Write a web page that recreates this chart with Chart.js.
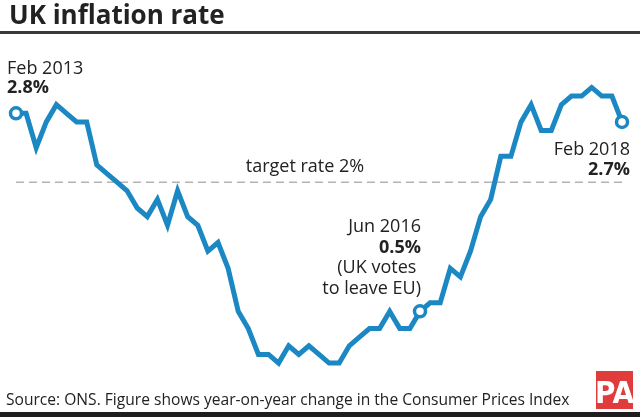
<!DOCTYPE html>
<html>
<head>
<meta charset="utf-8">
<script src="https://cdn.jsdelivr.net/npm/chart.js@4"></script>
<style>
  body { margin: 0; background: #fff; }
  canvas { display: block; }
</style>
</head>
<body>
<canvas id="chart" width="640" height="417"></canvas>
<script>
// monthly CPI, Feb 2013 .. Feb 2018
const months = [
    "Feb 2013", "Mar 2013", "Apr 2013", "May 2013", "Jun 2013", "Jul 2013", "Aug 2013", "Sep 2013", "Oct 2013", "Nov 2013", "Dec 2013",
    "Jan 2014", "Feb 2014", "Mar 2014", "Apr 2014", "May 2014", "Jun 2014", "Jul 2014", "Aug 2014", "Sep 2014", "Oct 2014", "Nov 2014", "Dec 2014",
    "Jan 2015", "Feb 2015", "Mar 2015", "Apr 2015", "May 2015", "Jun 2015", "Jul 2015", "Aug 2015", "Sep 2015", "Oct 2015", "Nov 2015", "Dec 2015",
    "Jan 2016", "Feb 2016", "Mar 2016", "Apr 2016", "May 2016", "Jun 2016", "Jul 2016", "Aug 2016", "Sep 2016", "Oct 2016", "Nov 2016", "Dec 2016",
    "Jan 2017", "Feb 2017", "Mar 2017", "Apr 2017", "May 2017", "Jun 2017", "Jul 2017", "Aug 2017", "Sep 2017", "Oct 2017", "Nov 2017", "Dec 2017",
    "Jan 2018", "Feb 2018"
];
const inflation = [
    2.8, 2.8, 2.4, 2.7, 2.9, 2.8, 2.7, 2.7, 2.2, 2.1, 2.0,
    1.9, 1.7, 1.6, 1.8, 1.5, 1.9, 1.6, 1.5, 1.2, 1.3, 1.0, 0.5,
    0.3, 0.0, 0.0, -0.1, 0.1, 0.0, 0.1, 0.0, -0.1, -0.1, 0.1, 0.2,
    0.3, 0.3, 0.5, 0.3, 0.3, 0.5, 0.6, 0.6, 1.0, 0.9, 1.2, 1.6,
    1.8, 2.3, 2.3, 2.7, 2.9, 2.6, 2.6, 2.9, 3.0, 3.0, 3.1, 3.0,
    3.0, 2.7
];
const targetRate = 2;
const marked = ["Feb 2013", "Jun 2016", "Feb 2018"];

const BLUE = "#1b88c3";
const INK = "#222222";
const FONT = "'Open Sans', sans-serif";

const radii = months.map(m => marked.includes(m) ? 5.5 : 0);

// titles, notes, rules and logo
const decor = {
    id: "decor",
    beforeDraw(chart) {
        const ctx = chart.ctx;
        ctx.save();
        ctx.fillStyle = "#fff";
        ctx.fillRect(0, 0, chart.width, chart.height);
        ctx.restore();
    },
    afterDraw(chart) {
        const ctx = chart.ctx;
        const x = chart.scales.x, y = chart.scales.y;
        const px = m => x.getPixelForValue(months.indexOf(m));
        ctx.save();
        ctx.fillStyle = INK;
        ctx.textBaseline = "alphabetic";

        // title
        ctx.font = "bold 26px " + FONT;
        ctx.textAlign = "left";
        ctx.fillText("UK inflation rate", 9, 24);
        ctx.fillStyle = "#3a3a3a";
        ctx.fillRect(0, 31, 640, 3);

        ctx.fillStyle = INK;
        const note = (lines, ax, align) => {
            ctx.textAlign = align;
            lines.forEach(l => {
                ctx.font = (l.b ? "bold " : "") + "18px " + FONT;
                ctx.fillText(l.t, ax, l.y);
            });
        };
        note([{t: "Feb 2013", y: 74}, {t: "2.8%", y: 93, b: true}], 7, "left");
        note([{t: "Feb 2018", y: 155}, {t: "2.7%", y: 175, b: true}], px("Feb 2018") + 8, "right");
        note([
            {t: "Jun 2016", y: 232},
            {t: "0.5%", y: 253, b: true},
            {t: "(UK votes ", y: 273},
            {t: "to leave EU)", y: 294}
        ], px("Jun 2016") + 1, "right");

        ctx.font = "18px " + FONT;
        ctx.textAlign = "center";
        ctx.fillText("target rate " + targetRate + "%", 305, y.getPixelForValue(targetRate) - 10);

        // source + bottom rule
        ctx.font = "15.6px " + FONT;
        ctx.textAlign = "left";
        ctx.fillText("Source: ONS. Figure shows year-on-year change in the Consumer Prices Index", 6, 405);
        ctx.fillStyle = "#1e1e1e";
        ctx.fillRect(0, 412, 640, 5);

        // PA logo
        ctx.fillStyle = "#e03c3c";
        ctx.fillRect(596, 371, 37, 38);
        ctx.fillStyle = "#fff";
        ctx.font = "bold 31px 'Liberation Sans Narrow', 'DejaVu Sans Condensed', sans-serif";
        ctx.textAlign = "center";
        ctx.fillText("PA", 614.5, 403);
        ctx.restore();
    }
};

new Chart(document.getElementById("chart"), {
    type: "line",
    data: {
        labels: months,
        datasets: [
            {
                data: inflation,
                borderColor: BLUE,
                borderWidth: 5,
                borderJoinStyle: "miter",
                pointRadius: radii,
                pointBackgroundColor: "#fff",
                pointBorderColor: BLUE,
                pointBorderWidth: 3.5,
                tension: 0,
                clip: false
            },
            {
                data: months.map(() => targetRate),
                borderColor: "#b4b4b4",
                borderWidth: 1.5,
                borderDash: [8, 5],
                pointRadius: 0,
                clip: false
            }
        ]
    },
    options: {
        responsive: false,
        animation: false,
        layout: { padding: { left: 16, right: 18, top: 0, bottom: 0 } },
        plugins: { legend: { display: false }, tooltip: { enabled: false } },
        scales: {
            x: { display: false },
            y: { display: false, min: -0.622, max: 4.011 }
        }
    },
    plugins: [decor]
});
</script>
</body>
</html>
